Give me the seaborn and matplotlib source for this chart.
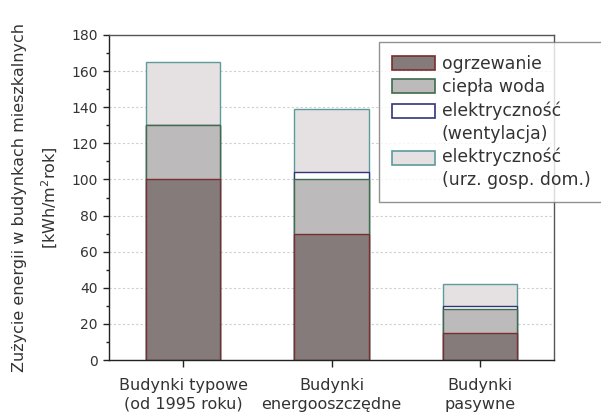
import matplotlib
matplotlib.use("Agg")
import matplotlib.pyplot as plt
import seaborn as sns
import pandas as pd
import numpy as np
from matplotlib.patches import Patch, Rectangle
from matplotlib.legend_handler import HandlerPatch
from matplotlib.ticker import MultipleLocator

categories = ["Budynki typowe\n(od 1995 roku)", "Budynki\nenergooszczędne", "Budynki\npasywne"]
ogrzewanie = [100, 70, 15]
ciepla_woda = [30, 30, 13]
wentylacja = [0, 4, 2]
urzadzenia = [35, 35, 12]

series_names = ["ogrzewanie", "ciepła woda", "elektryczność\n(wentylacja)", "elektryczność\n(urz. gosp. dom.)"]
faces = ["#857b7b", "#bcbaba", "#ffffff", "#e5e1e2"]
edges = ["#7a2e2e", "#3e6b4a", "#33337a", "#5e9b9b"]

sns.set_theme(style="white")
plt.rcParams['font.family'] = ['DejaVu Sans']

fig = plt.figure(figsize=(6.01, 4.16), dpi=100)
ax = fig.add_axes([109/601, 56/416, 445/601, 325/416])

vals = np.array([ogrzewanie, ciepla_woda, wentylacja, urzadzenia], dtype=float)
cum = np.cumsum(vals, axis=0)

for i in reversed(range(4)):
    df = pd.DataFrame({"kat": categories, "val": cum[i]})
    sns.barplot(data=df, x="kat", y="val", color=faces[i], saturation=1,
                edgecolor=edges[i], linewidth=1.0, width=0.5, errorbar=None, ax=ax, zorder=2)

ax.set_xlim(-0.5, 2.5)
ax.set_ylim(0, 180)
ax.yaxis.set_major_locator(MultipleLocator(20))
ax.yaxis.set_minor_locator(MultipleLocator(10))
ax.grid(axis='y', which='major', linestyle=(0, (2, 2)), color='#cfcfcf', linewidth=0.8, zorder=0)
ax.set_axisbelow(True)

for s in ax.spines.values():
    s.set_visible(True)
    s.set_color('#555555')
    s.set_linewidth(1.0)
ax.spines['left'].set_color('#222222')
ax.spines['bottom'].set_color('#222222')

ax.tick_params(axis='y', which='major', direction='out', length=4, width=1, color='#222222',
               labelsize=10, labelcolor='#333333', pad=4, left=True)
ax.tick_params(axis='y', which='minor', direction='out', length=2, width=1, color='#222222', left=True)
ax.tick_params(axis='x', which='major', direction='out', length=5, width=1, color='#222222',
               labelsize=11.5, labelcolor='#333333', pad=8, bottom=True)
for t in ax.get_xticklabels():
    t.set_linespacing(1.3)

ax.set_xlabel("")
ax.set_ylabel("Zużycie energii w budynkach mieszkalnych\n[kWh/m$^2$rok]", fontsize=11.5,
              color='#333333', labelpad=8, linespacing=1.85)


def top_line_patch(legend, orig_handle, xdescent, ydescent, width, height, fontsize):
    # align the swatch with the first line of a two-line label
    return Rectangle(xy=(-xdescent, -ydescent + 0.67 * fontsize), width=width, height=height)


handles = [Patch(facecolor=faces[i], edgecolor=edges[i], linewidth=1.2) for i in range(4)]
hmap = {handles[2]: HandlerPatch(patch_func=top_line_patch),
        handles[3]: HandlerPatch(patch_func=top_line_patch)}
leg = fig.legend(handles, series_names, loc='upper left', bbox_to_anchor=(379/601, 1 - 42/416),
                 fontsize=12.4, frameon=True, fancybox=False, edgecolor='#777777',
                 handlelength=2.5, handleheight=0.87, labelspacing=0.3, borderpad=0.75,
                 handletextpad=0.4, borderaxespad=0, handler_map=hmap)
leg.get_frame().set_linewidth(1.0)
for t in leg.get_texts():
    t.set_color('#333333')
    t.set_linespacing(1.35)

fig.savefig("out.png", dpi=100)
